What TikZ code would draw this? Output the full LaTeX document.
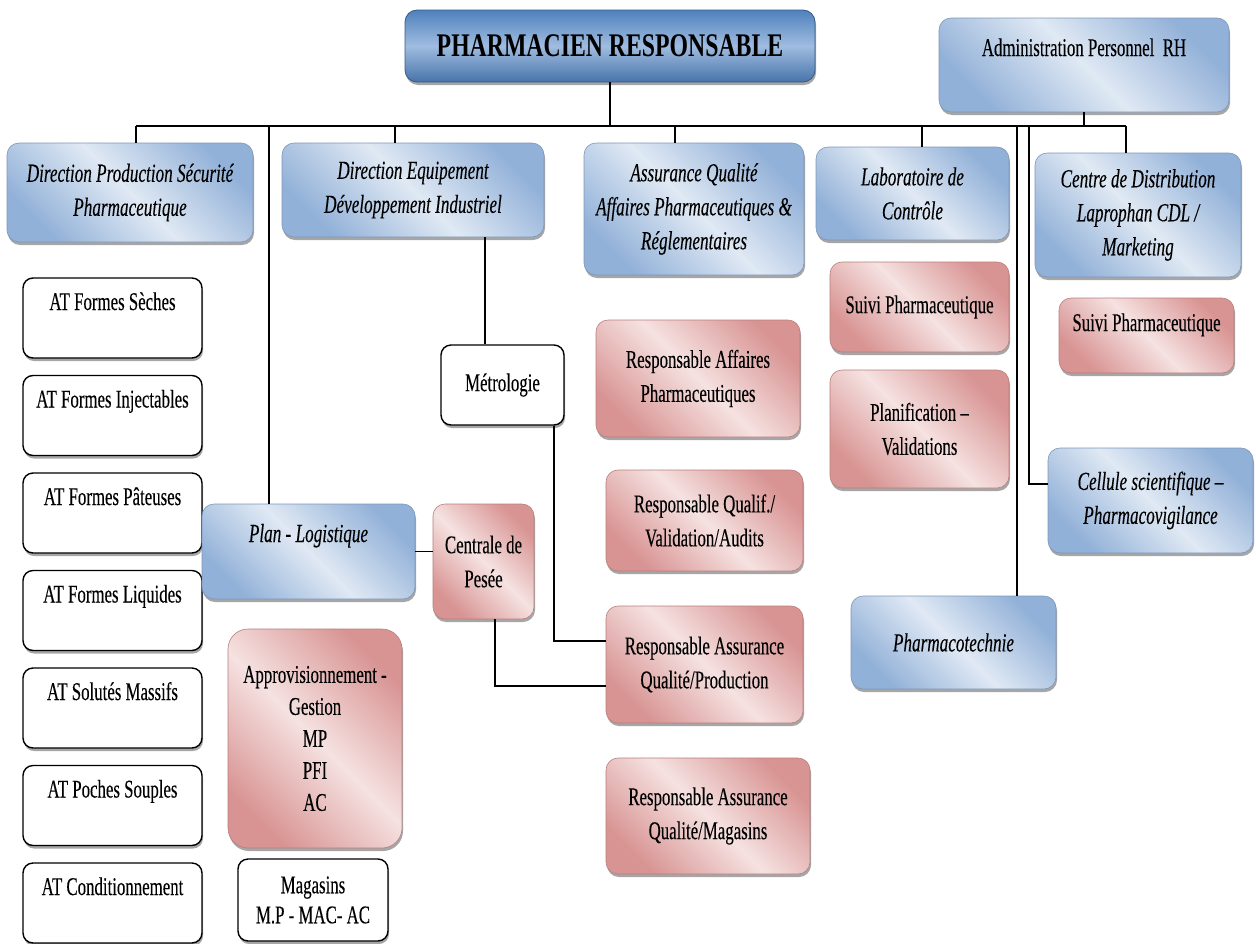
\documentclass[tikz,border=0pt]{standalone}
\usepackage{fontspec}
\setmainfont{Liberation Serif}[FakeStretch=0.66, FakeBold=0.2]
\newfontfamily\policechef{Liberation Serif}[FakeStretch=0.72]
\usetikzlibrary{shadows}

\definecolor{bleuchef}{RGB}{79,129,189}
\definecolor{bleumilieu}{RGB}{160,188,224}
\definecolor{bleuclair}{RGB}{224,233,244}
\definecolor{bleufonce}{RGB}{146,177,216}
\definecolor{roseclair}{RGB}{245,226,225}
\definecolor{rosefonce}{RGB}{216,148,147}

\begin{document}
\begin{tikzpicture}[x=1pt,y=-1pt,
	boite/.style={rounded corners=12pt, align=center, inner sep=0pt,
		font=\fontsize{25.5}{34}\selectfont,
		drop shadow={shadow xshift=1pt, shadow yshift=-3pt, fill=black, opacity=0.35}},
	chef/.style={boite, draw=bleuchef!70!black, line width=0.8pt,
		top color=bleuchef, bottom color=bleuchef!90!black, middle color=bleumilieu,
		font=\fontsize{33}{38}\policechef\bfseries},
	bleu/.style={boite, draw=bleufonce!85!black, line width=0.6pt,
		top color=bleufonce, bottom color=bleufonce, middle color=bleuclair,
		shading angle=-45, font=\fontsize{26}{34}\selectfont\itshape},
	rose/.style={boite, draw=rosefonce!85!black, line width=0.6pt,
		top color=rosefonce, bottom color=rosefonce, middle color=roseclair,
		shading angle=-45},
	blanc/.style={boite, draw=black, line width=1.4pt, fill=white, rounded corners=10pt},
	atelier/.style={minimum width=179pt, text height=32pt, text depth=48pt},
	lien/.style={draw=black, line width=1.5pt}]
	
	\useasboundingbox (0,0) rectangle (1256,943);
	
	%----------------------------
	% Top: pharmacien responsable and RH
	%----------------------------
	\node[chef, minimum width=410pt, minimum height=72pt] (chef) at (610,46)
		{PHARMACIEN RESPONSABLE};
	\node[bleu, font=\fontsize{25.5}{34}\selectfont, minimum width=290pt,
		text height=38pt, text depth=56pt] (admin) at (1084,65)
		{Administration Personnel~~RH};
	
	%----------------------------
	% Second row: directions
	%----------------------------
	\node[bleu, minimum width=246pt, minimum height=99pt] (dirprod) at (130,192.5)
		{Direction Production Sécurité\\Pharmaceutique};
	\node[bleu, minimum width=262pt, minimum height=94pt] (direquip) at (413,190)
		{Direction Equipement\\Développement Industriel};
	\node[bleu, minimum width=220pt, minimum height=132pt] (aq) at (694,209)
		{Assurance Qualité\\Affaires Pharmaceutiques \&\\Réglementaires};
	\node[bleu, minimum width=193pt, minimum height=93pt] (lab) at (912.5,193.5)
		{Laboratoire de\\Contrôle};
	\node[bleu, minimum width=206pt, minimum height=124pt] (cdl) at (1138,215)
		{Centre de Distribution\\Laprophan CDL /\\Marketing};
	
	%----------------------------
	% Left column: ateliers
	%----------------------------
	\foreach \nom [count=\i from 0] in {Formes Sèches, Formes Injectables,
		Formes Pâteuses, Formes Liquides, Solutés Massifs, Poches Souples,
		Conditionnement}
	\node[blanc, atelier] (atelier\i) at (112.5,{318+97.5*\i}) {AT \nom};
	
	% plan, logistics and stores
	\node[bleu, minimum width=213pt, text height=38pt, text depth=57pt] (plan)
		at (308.5,551.5) {Plan - Logistique};
	\node[rose, minimum width=101pt, minimum height=115pt] (centrale) at (483.5,561.5)
		{Centrale de\\Pesée};
	\node[rose, font=\fontsize{25.5}{32}\selectfont, rounded corners=20pt,
		minimum width=174pt, minimum height=219pt] (appro) at (315,738.5)
		{Approvisionnement -\\Gestion\\MP\\PFI\\AC};
	\node[blanc, font=\fontsize{25.5}{30}\selectfont, minimum width=150pt,
		minimum height=82pt] (magasins) at (313,900) {Magasins\\M.P - MAC- AC};
	\node[blanc, minimum width=123pt, minimum height=80pt] (metro) at (502.5,385)
		{Métrologie};
	
	%----------------------------
	% Quality column
	%----------------------------
	\node[rose, minimum width=204pt, minimum height=117pt] (respaff) at (698,378.5)
		{Responsable Affaires\\Pharmaceutiques};
	\node[rose, minimum width=197pt, minimum height=101pt] (respqual) at (704.5,520.5)
		{Responsable Qualif./\\Validation/Audits};
	\node[rose, minimum width=197pt, minimum height=117pt] (respprod) at (704.5,664.5)
		{Responsable Assurance\\Qualité/Production};
	\node[rose, minimum width=204pt, minimum height=116pt] (respmag) at (708,816)
		{Responsable Assurance\\Qualité/Magasins};
	
	%----------------------------
	% Right: laboratory, CDL, pharmacovigilance
	%----------------------------
	\node[rose, minimum width=179pt, minimum height=90pt] (suivilab) at (919.5,307)
		{Suivi Pharmaceutique};
	\node[rose, minimum width=179pt, minimum height=118pt] (plani) at (919.5,429)
		{Planification –\\Validations};
	\node[rose, minimum width=175pt, text height=33pt, text depth=42pt] (suivicdl)
		at (1146.5,335.5) {Suivi Pharmaceutique};
	\node[bleu, minimum width=205pt, minimum height=105pt] (cellule) at (1150.5,500.5)
		{Cellule scientifique –\\Pharmacovigilance};
	\node[bleu, minimum width=205pt, minimum height=93pt] (pharmaco) at (953.5,642.5)
		{Pharmacotechnie};
	
	%----------------------------
	% Connectors
	%----------------------------
	\foreach \n/\x in {dirprod/136, plan/269, direquip/395, aq/675, lab/922,
		pharmaco/1017, cellule/1029, cdl/1126}
	\coordinate (p-\n) at (\x,126);
	
	% main bus
	\draw[lien, line width=2pt] (p-dirprod) -- (p-cdl);
	\draw[lien] (chef.south) -- (chef.south |- p-dirprod);
	\draw[lien] (admin.south) -- (admin.south |- p-cdl);
	
	% drops to the directions
	\foreach \n in {dirprod, plan, direquip, aq, lab, cdl, pharmaco}
	\draw[lien] (p-\n) -- (p-\n |- \n.north);
	\draw[lien] (p-cellule) |- ([yshift=16.5pt]cellule.west);
	
	% equipement -> metrologie -> production
	\coordinate (metroH) at ([xshift=-17.5pt]metro.north);
	\draw[lien] (metroH) -- (metroH |- direquip.south);
	\draw[lien] ([xshift=51.5pt]metro.south) |- ([yshift=23.5pt]respprod.west);
	
	% plan -> centrale -> production
	\draw[lien] (plan.east) -- (plan.east -| centrale.west);
	\draw[lien] ([xshift=11.5pt]centrale.south) |- ([yshift=-21.5pt]respprod.west);
	
\end{tikzpicture}
\end{document}
